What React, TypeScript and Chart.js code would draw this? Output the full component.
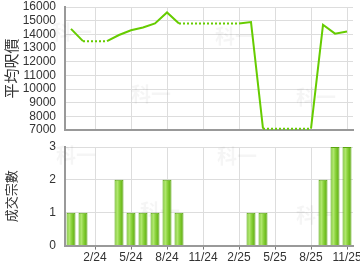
import React, { useEffect, useRef } from "react";
import { Chart, registerables } from "chart.js";

Chart.register(...registerables);

const months = [
  "12/23", "1/24", "2/24", "3/24", "4/24", "5/24", "6/24", "7/24", "8/24", "9/24", "10/24", "11/24",
  "12/24", "1/25", "2/25", "3/25", "4/25", "5/25", "6/25", "7/25", "8/25", "9/25", "10/25", "11/25",
];
const tickLabels = ["2/24", "5/24", "8/24", "11/24", "2/25", "5/25", "8/25", "11/25"];
const avgPrice: (number | null)[] = [
  14400, 13500, null, 13500, 13950, 14300, 14500, 14800, 15600, 14800, null, null,
  null, null, 14800, 14900, 7100, null, null, null, 7100, 14700, 14050, 14200,
];
const dealCounts = [1, 1, 0, 0, 2, 1, 1, 1, 2, 1, 0, 0, 0, 0, 0, 1, 1, 0, 0, 0, 0, 2, 3, 3];
const priceTitle = "平均呎價";
const countTitle = "成交宗數";
const watermarkText = "科一";

const AXIS_W = 65;
const FONT = "'Liberation Sans', Arial, sans-serif";
const GRID = "#dddddd";
const AXIS = "#999999";

const shown = (i: number) => tickLabels.includes(months[i]);

const watermarkPlugin = (spots: [number, number][]) => ({
  id: "wm",
  beforeDatasetsDraw(chart: any) {
    const c = chart.ctx;
    c.save();
    c.fillStyle = "rgba(0,0,0,0.04)";
    c.font = `bold 20px 'Noto Sans CJK TC', sans-serif`;
    c.textAlign = "center";
    c.textBaseline = "middle";
    spots.forEach(([x, y]) => c.fillText(watermarkText, x, y));
    c.restore();
  },
});

const fitY = (s: any) => {
  s.width = AXIS_W;
  s.paddingTop = 0;
  s.paddingBottom = 0;
};

export default function App() {
  const topRef = useRef<HTMLCanvasElement>(null);
  const botRef = useRef<HTMLCanvasElement>(null);

  useEffect(() => {
    document.body.style.margin = "0";
    const xGridColor = (ctx: any) => (shown(ctx.index) ? GRID : "rgba(0,0,0,0)");

    const top = new Chart(topRef.current!, {
      type: "line",
      data: {
        labels: months,
        datasets: [
          {
            data: avgPrice,
            borderColor: "#66cc00",
            borderWidth: 2,
            pointRadius: 0,
            spanGaps: true,
            tension: 0,
            segment: {
              borderDash: (ctx: any) => (ctx.p0.skip || ctx.p1.skip ? [2, 2] : undefined),
            },
          } as any,
        ],
      },
      options: {
        animation: false,
        responsive: false,
        layout: { padding: { top: 7, right: 7, bottom: 6, left: 0 } },
        plugins: { legend: { display: false }, tooltip: { enabled: false } },
        scales: {
          x: {
            type: "category",
            offset: true,
            grid: { offset: false, color: xGridColor, drawTicks: false, lineWidth: 1 },
            border: { color: AXIS, width: 2 },
            ticks: { display: false, autoSkip: false },
            afterFit: (s: any) => {
              s.height = 0;
              s.paddingLeft = 0;
              s.paddingRight = 0;
            },
          },
          y: {
            min: 7000,
            max: 16000,
            ticks: {
              stepSize: 1000,
              autoSkip: false,
              font: { family: FONT, size: 12 },
              color: "#333",
              padding: 9,
              callback: (v: any) => String(v),
            },
            grid: { color: GRID, drawTicks: false },
            border: { color: AXIS, width: 2 },
            title: {
              display: true,
              text: priceTitle,
              font: { family: "'Noto Sans CJK TC', sans-serif", size: 15 },
              color: "#333",
              padding: { top: 2, bottom: 0 },
            },
            afterFit: fitY,
          },
        },
      },
      plugins: [watermarkPlugin([[72, 32], [151, 94], [235, 36], [316, 97]])],
    });

    const bot = new Chart(botRef.current!, {
      type: "bar",
      data: {
        labels: months,
        datasets: [
          {
            data: dealCounts,
            backgroundColor: (ctx: any) => {
              const chart = ctx.chart;
              const xs = chart.scales?.x;
              if (!xs || ctx.type !== "data" || !chart.chartArea) return "#80cc30";
              const c = xs.getPixelForValue(ctx.dataIndex);
              const hw = (xs.getPixelForValue(1) - xs.getPixelForValue(0)) * 0.75 / 2;
              const g = chart.ctx.createLinearGradient(c - hw, 0, c + hw, 0);
              g.addColorStop(0, "#6cc21c");
              g.addColorStop(0.3, "#b4e874");
              g.addColorStop(0.6, "#84cf34");
              g.addColorStop(1, "#5aa60e");
              return g;
            },
            borderColor: "#5aa60e",
            borderWidth: 1,
            barPercentage: 0.75,
            categoryPercentage: 1,
          },
        ],
      },
      options: {
        animation: false,
        responsive: false,
        layout: { padding: { top: 11, right: 7, bottom: 4, left: 0 } },
        plugins: { legend: { display: false }, tooltip: { enabled: false } },
        scales: {
          x: {
            type: "category",
            offset: true,
            grid: {
              offset: false,
              color: xGridColor,
              tickColor: (ctx: any) => (shown(ctx.index) ? "#777" : "rgba(0,0,0,0)"),
              tickLength: 4,
            },
            border: { color: AXIS, width: 2 },
            ticks: {
              autoSkip: false,
              maxRotation: 0,
              minRotation: 0,
              padding: 1,
              font: { family: FONT, size: 12 },
              color: "#333",
              callback: (_v: any, i: number) => (shown(i) ? months[i] : ""),
            },
            afterFit: (s: any) => {
              s.paddingLeft = 0;
              s.paddingRight = 0;
            },
          },
          y: {
            min: 0,
            max: 3,
            ticks: { stepSize: 1, font: { family: FONT, size: 12 }, color: "#333", padding: 9 },
            grid: { color: GRID, drawTicks: false },
            border: { color: AXIS, width: 2 },
            title: {
              display: true,
              text: countTitle,
              font: { family: "'Noto Sans CJK TC', sans-serif", size: 13 },
              color: "#333",
              padding: { top: 3, bottom: 0 },
            },
            afterFit: fitY,
          },
        },
      },
      plugins: [watermarkPlugin([[76, 19], [160, 75], [237, 20], [316, 79]])],
    });

    return () => {
      top.destroy();
      bot.destroy();
    };
  }, []);

  return (
    <div style={{ width: 360, height: 270, background: "#fff" }}>
      <canvas ref={topRef} width={360} height={136} style={{ display: "block" }} />
      <canvas ref={botRef} width={360} height={134} style={{ display: "block" }} />
    </div>
  );
}
